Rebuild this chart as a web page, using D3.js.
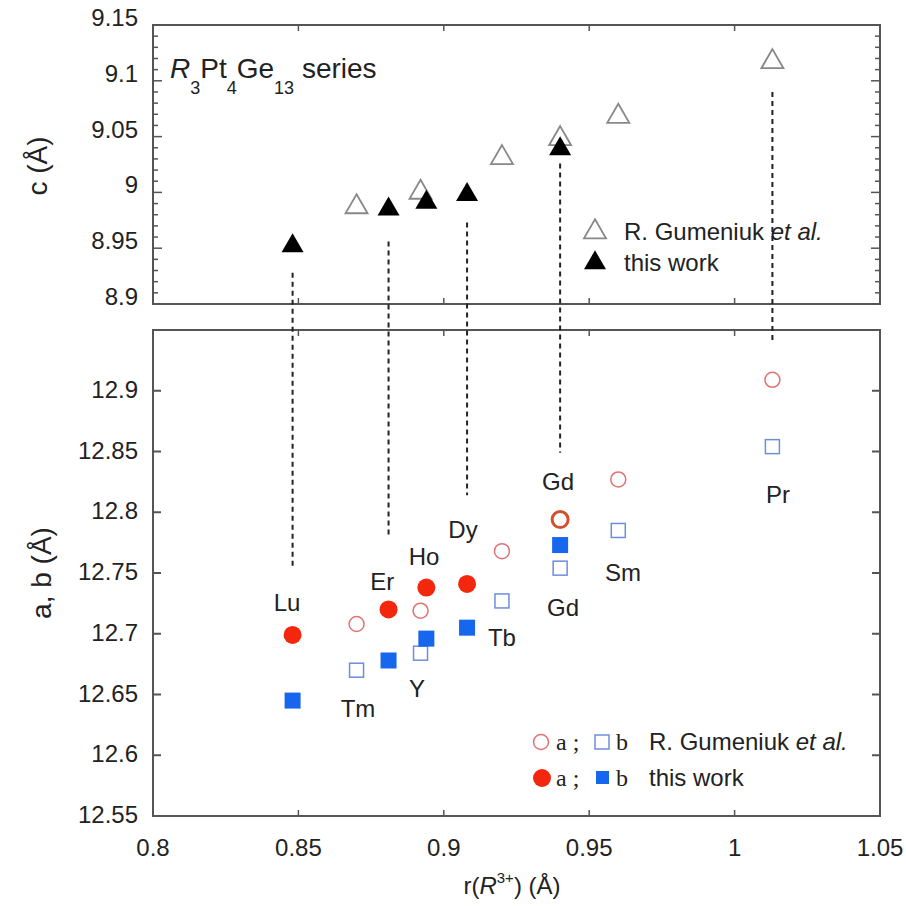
<!DOCTYPE html>
<html>
<head>
<meta charset="utf-8">
<script src="https://cdn.jsdelivr.net/npm/d3@7"></script>
<style>
  body { margin: 0; background: #fff; }
  text { font-family: "Liberation Sans", Arial, sans-serif; fill: #222; }
</style>
</head>
<body>
<div id="chart"></div>
<script>
// ---- data ----
const rGumeniuk = [0.87, 0.892, 0.92, 0.94, 0.96, 1.013];
const cGumeniuk = [8.987, 9.0, 9.031, 9.048, 9.068, 9.117];
const aGumeniuk = [12.708, 12.719, 12.768, 12.794, 12.827, 12.909];
const bGumeniuk = [12.670, 12.684, 12.727, 12.754, 12.785, 12.854];

const rWork = [0.848, 0.881, 0.894, 0.908, 0.94];
const cWork = [8.952, 8.985, 8.991, 8.998, 9.039];
const aWork = [12.699, 12.720, 12.738, 12.741, null];
const bWork = [12.645, 12.678, 12.696, 12.705, 12.773];

// element labels (data units)
const labelText = ["Lu", "Er", "Ho", "Dy", "Gd", "Gd", "Sm", "Tb", "Pr", "Y", "Tm"];
const labelR = [0.8461, 0.8788, 0.8932, 0.9066, 0.9393, 0.941, 0.9616, 0.920, 1.0149, 0.8908, 0.8705];
const labelV = [12.7186, 12.736, 12.7566, 12.779, 12.818, 12.7145, 12.7434, 12.6897, 12.808, 12.6483, 12.6318];

// dashed guides: r, start on c axis, end on a axis
const guideR = [0.848, 0.881, 0.908, 0.94, 1.013];
const guideC = [8.928, 8.956, 8.973, 9.026, 9.09];
const guideA = [12.756, 12.781, 12.814, 12.849, 12.940];

const xTicks = [0.8, 0.85, 0.9, 0.95, 1, 1.05];
const cTicks = [8.9, 8.95, 9, 9.05, 9.1, 9.15];
const abTicks = [12.55, 12.6, 12.65, 12.7, 12.75, 12.8, 12.85, 12.9];

// ---- layout ----
const width = 906, height = 906;
const left = 153, right = 880;
const topY0 = 25, topY1 = 304;
const botY0 = 330, botY1 = 816;

const red = "#f3260e", blue = "#1766ee";
const redOpen = "#e27272", blueOpen = "#6e8ddb";

const svg = d3.select("#chart").append("svg")
    .attr("width", width)
    .attr("height", height);

const x = d3.scaleLinear().domain([0.8, 1.05]).range([left, right]);
const yc = d3.scaleLinear().domain([8.9, 9.15]).range([topY1, topY0]);
const yab = d3.scaleLinear().domain([12.55, 12.95]).range([botY1, botY0]);

const fmt = d => String(+d.toFixed(2));

// ---- frames & ticks ----
function frame(y0, y1) {
    svg.append("rect")
        .attr("x", left).attr("y", y0)
        .attr("width", right - left).attr("height", y1 - y0)
        .attr("fill", "none").attr("stroke", "#555").attr("stroke-width", 2);
}
frame(topY0, topY1);
frame(botY0, botY1);

function xTickMarks(y, dir, len) {
    svg.append("g").selectAll("line")
        .data(xTicks.slice(1, -1))
        .enter().append("line")
        .attr("x1", d => x(d)).attr("x2", d => x(d))
        .attr("y1", y).attr("y2", y + dir * len)
        .attr("stroke", "#555").attr("stroke-width", 1.5);
}
xTickMarks(topY0, 1, 6);
xTickMarks(topY1, -1, 6);
xTickMarks(botY0, 1, 6);
xTickMarks(botY1, -1, 6);

// top panel y ticks (major + minor) on both sides, bottom panel majors
const cMinor = d3.range(0, 26).map(i => 8.9 + i * 0.01);
[left, right].forEach(xx => {
    const dir = xx === left ? 1 : -1;
    svg.append("g").selectAll("line")
        .data(cMinor)
        .enter().append("line")
        .attr("x1", xx).attr("x2", (d, i) => xx + dir * (i % 5 === 0 ? 9 : 5))
        .attr("y1", d => yc(d)).attr("y2", d => yc(d))
        .attr("stroke", "#555").attr("stroke-width", 1.5);
    svg.append("g").selectAll("line")
        .data(abTicks.slice(1))
        .enter().append("line")
        .attr("x1", xx).attr("x2", xx + dir * 8)
        .attr("y1", d => yab(d)).attr("y2", d => yab(d))
        .attr("stroke", "#555").attr("stroke-width", 2);
});

// tick labels
svg.append("g").selectAll("text")
    .data(cTicks)
    .enter().append("text")
    .attr("x", 138).attr("y", d => yc(d) + 1)
    .attr("text-anchor", "end")
    .style("font-size", "24px")
    .text(fmt);

svg.append("g").selectAll("text")
    .data(abTicks)
    .enter().append("text")
    .attr("x", 138).attr("y", d => yab(d) + 7)
    .attr("text-anchor", "end")
    .style("font-size", "24px")
    .text(fmt);

svg.append("g").selectAll("text")
    .data(xTicks)
    .enter().append("text")
    .attr("x", d => x(d)).attr("y", 856)
    .attr("text-anchor", "middle")
    .style("font-size", "24px")
    .text(fmt);

// axis titles
svg.append("text")
    .attr("transform", "translate(47,166) rotate(-90)")
    .attr("text-anchor", "middle")
    .style("font-size", "28px")
    .text("c (Å)");

svg.append("text")
    .attr("transform", "translate(51,573) rotate(-90)")
    .attr("text-anchor", "middle")
    .style("font-size", "28px")
    .text("a, b (Å)");

const xt = svg.append("text")
    .attr("x", 512).attr("y", 894)
    .attr("text-anchor", "middle")
    .style("font-size", "24px");
xt.append("tspan").text("r(");
xt.append("tspan").style("font-style", "italic").text("R");
xt.append("tspan").attr("dy", -11).style("font-size", "15px").text("3+");
xt.append("tspan").attr("dy", 11).text(") (Å)");

// series label
const st = svg.append("text")
    .attr("x", 170).attr("y", 78)
    .style("font-size", "28px");
st.append("tspan").style("font-style", "italic").text("R");
st.append("tspan").attr("dy", 16).style("font-size", "18px").text("3");
st.append("tspan").attr("dy", -16).text("Pt");
st.append("tspan").attr("dy", 16).style("font-size", "18px").text("4");
st.append("tspan").attr("dy", -16).text("Ge");
st.append("tspan").attr("dy", 16).style("font-size", "18px").text("13");
st.append("tspan").attr("dy", -16).text(" series");

// ---- dashed guides ----
svg.append("g").selectAll("line")
    .data(guideR)
    .enter().append("line")
    .attr("x1", d => x(d)).attr("x2", d => x(d))
    .attr("y1", (d, i) => yc(guideC[i]))
    .attr("y2", (d, i) => yab(guideA[i]))
    .attr("stroke", "#222").attr("stroke-width", 2)
    .attr("stroke-dasharray", "5,4");

// ---- top panel triangles ----
const tri = d3.symbol().type(d3.symbolTriangle).size(210);

svg.append("g").selectAll("path")
    .data(rGumeniuk)
    .enter().append("path")
    .attr("d", tri)
    .attr("transform", (d, i) => `translate(${x(d)},${yc(cGumeniuk[i])})`)
    .attr("fill", "#fff").attr("stroke", "#888").attr("stroke-width", 1.8);

svg.append("g").selectAll("path")
    .data(rWork)
    .enter().append("path")
    .attr("d", tri)
    .attr("transform", (d, i) => `translate(${x(d)},${yc(cWork[i])})`)
    .attr("fill", "#000");

// ---- bottom panel ----
svg.append("g").selectAll("circle")
    .data(rGumeniuk)
    .enter().append("circle")
    .attr("cx", d => x(d)).attr("cy", (d, i) => yab(aGumeniuk[i]))
    .attr("r", d => d === 0.94 ? 8 : 7.5)
    .attr("fill", "#fff")
    .attr("stroke", d => d === 0.94 ? "#d2502e" : redOpen)
    .attr("stroke-width", d => d === 0.94 ? 3 : 1.5);

svg.append("g").selectAll("rect")
    .data(rGumeniuk)
    .enter().append("rect")
    .attr("x", d => x(d) - 7).attr("y", (d, i) => yab(bGumeniuk[i]) - 7)
    .attr("width", 14).attr("height", 14)
    .attr("fill", "#fff").attr("stroke", blueOpen).attr("stroke-width", 1.5);

svg.append("g").selectAll("circle")
    .data(rWork.filter((d, i) => aWork[i] !== null))
    .enter().append("circle")
    .attr("cx", d => x(d)).attr("cy", (d, i) => yab(aWork[i]))
    .attr("r", 9)
    .attr("fill", red);

svg.append("g").selectAll("rect")
    .data(rWork)
    .enter().append("rect")
    .attr("x", d => x(d) - 8).attr("y", (d, i) => yab(bWork[i]) - 8)
    .attr("width", 16).attr("height", 16)
    .attr("fill", blue);

svg.append("g").selectAll("text")
    .data(labelText)
    .enter().append("text")
    .attr("x", (d, i) => x(labelR[i])).attr("y", (d, i) => yab(labelV[i]))
    .attr("text-anchor", "middle")
    .style("font-size", "24px")
    .text(d => d);

// ---- top legend ----
const lg1 = svg.append("g");
lg1.append("path").attr("d", tri)
    .attr("transform", "translate(595,232)")
    .attr("fill", "#fff").attr("stroke", "#888").attr("stroke-width", 1.8);
lg1.append("path").attr("d", tri)
    .attr("transform", "translate(595,263)")
    .attr("fill", "#000");
const t1 = lg1.append("text").attr("x", 624).attr("y", 240).style("font-size", "24px");
t1.append("tspan").text("R. Gumeniuk ");
t1.append("tspan").style("font-style", "italic").text("et al.");
lg1.append("text").attr("x", 624).attr("y", 271).style("font-size", "24px").text("this work");

// ---- bottom legend ----
const lg2 = svg.append("g");
const serif = "'Liberation Serif', 'DejaVu Serif', serif";
lg2.append("circle").attr("cx", 541).attr("cy", 742).attr("r", 7.5)
    .attr("fill", "#fff").attr("stroke", redOpen).attr("stroke-width", 1.5);
lg2.append("rect").attr("x", 595).attr("y", 735).attr("width", 14).attr("height", 14)
    .attr("fill", "#fff").attr("stroke", blueOpen).attr("stroke-width", 1.5);
lg2.append("circle").attr("cx", 542).attr("cy", 778).attr("r", 9).attr("fill", red);
lg2.append("rect").attr("x", 596).attr("y", 771).attr("width", 13).attr("height", 13).attr("fill", blue);
[750, 786].forEach(yy => {
    lg2.append("text").attr("x", 556).attr("y", yy).style("font-family", serif).style("font-size", "24px").text("a ;");
    lg2.append("text").attr("x", 616).attr("y", yy).style("font-family", serif).style("font-size", "24px").text("b");
});
const t2 = lg2.append("text").attr("x", 649).attr("y", 750).style("font-size", "24px");
t2.append("tspan").text("R. Gumeniuk ");
t2.append("tspan").style("font-style", "italic").text("et al.");
lg2.append("text").attr("x", 649).attr("y", 786).style("font-size", "24px").text("this work");
</script>
</body>
</html>
